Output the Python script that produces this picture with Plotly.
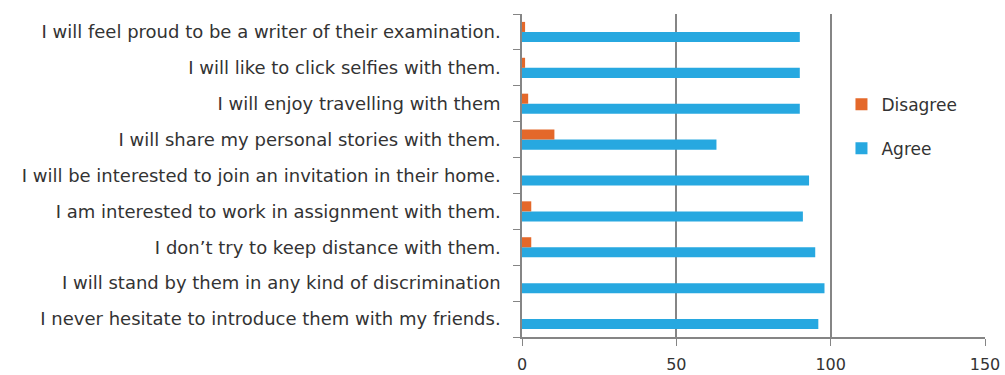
import plotly.graph_objects as go

# Statements, listed bottom-to-top as they appear on the category axis
statements = [
    "I never hesitate to introduce them with my friends.",
    "I will stand by them in any kind of discrimination",
    "I don\u2019t try to keep distance with them.",
    "I am interested to work in assignment with them.",
    "I will be interested to join an invitation in their home.",
    "I will share my personal stories with them.",
    "I will enjoy travelling with them",
    "I will like to click selfies with them.",
    "I will feel proud to be a writer of their examination.",
]
agree = [96, 98, 95, 91, 93, 63, 90, 90, 90]
disagree = [0, 0, 3, 3, 0, 10.5, 2, 1, 1]

x_ticks = [0, 50, 100, 150]

font_family = "'DejaVu Sans', sans-serif"
text_color = "#333333"
axis_color = "#858585"

fig = go.Figure()
fig.add_trace(go.Bar(
    y=statements, x=agree, name="Agree", orientation="h",
    marker=dict(color="#27A8E0", line=dict(width=0)),
    legendgroup="a", legendrank=2,
))
fig.add_trace(go.Bar(
    y=statements, x=disagree, name="Disagree", orientation="h",
    marker=dict(color="#E4682A", line=dict(width=0)),
    legendgroup="d", legendrank=1,
))

fig.update_layout(
    width=1005, height=375,
    margin=dict(l=522, r=20, t=14, b=38),
    paper_bgcolor="white", plot_bgcolor="white",
    barmode="group", bargap=0.44, bargroupgap=0,
    font=dict(family=font_family, size=18, color=text_color),
    legend=dict(
        x=0.69, y=0.775, xanchor="left", yanchor="top",
        traceorder="grouped", tracegroupgap=19,
        font=dict(size=17, color=text_color),
        bgcolor="rgba(0,0,0,0)",
    ),
    xaxis=dict(
        range=[0, 150], tickvals=x_ticks, ticktext=[str(v) for v in x_ticks],
        showgrid=True, gridcolor=axis_color, gridwidth=1.5,
        showline=True, linecolor=axis_color, linewidth=1.5,
        ticks="outside", ticklen=7, tickcolor=axis_color, tickwidth=1.2,
        zeroline=False, fixedrange=True, automargin=False,
        ticklabelstandoff=5,
        tickfont=dict(size=16, color=text_color),
    ),
    yaxis=dict(
        categoryorder="array", categoryarray=statements,
        showline=True, linecolor=axis_color, linewidth=1.5,
        ticks="outside", tickson="boundaries", ticklen=7,
        tickcolor=axis_color, tickwidth=1.2,
        showgrid=False, fixedrange=True, automargin=False,
        ticklabelstandoff=16,
        tickfont=dict(size=18, color=text_color),
    ),
)

fig.write_html("out.html")
